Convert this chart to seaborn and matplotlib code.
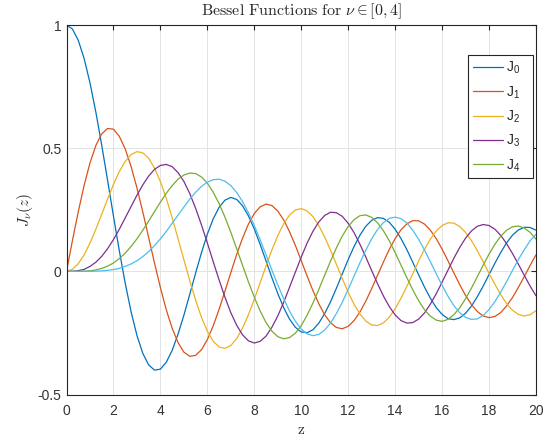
import numpy as np
import pandas as pd
import matplotlib
matplotlib.use("Agg")
import matplotlib.pyplot as plt
import seaborn as sns

# Sample points along z (step 0.25 from 0 to 20)
z = np.linspace(0, 20, 81)

# Bessel functions of the first kind J_0 ... J_5 at the sample points
J0 = [1.000, .984, .938, .864, .765, .646, .512, .369, .224, .083,
      -.048, -.164, -.260, -.333, -.380, -.401, -.397, -.369, -.321, -.255,
      -.178, -.093, -.007, .076, .151, .213, .260, .289, .300, .292,
      .266, .225, .172, .109, .042, -.026, -.090, -.147, -.194, -.227,
      -.246, -.249, -.237, -.210, -.171, -.123, -.068, -.010, .048, .101,
      .147, .183, .207, .218, .215, .199, .171, .133, .088, .037,
      -.014, -.064, -.109, -.147, -.175, -.192, -.196, -.189, -.170, -.141,
      -.103, -.060, -.013, .033, .077, .116, .147, .168, .179, .178, .167]
J1 = [0, .124, .242, .349, .440, .511, .558, .580, .577, .548,
      .497, .426, .339, .241, .137, .033, -.066, -.156, -.231, -.289,
      -.328, -.345, -.341, -.318, -.277, -.221, -.154, -.080, -.005, .069,
      .135, .192, .235, .262, .273, .267, .245, .209, .161, .105,
      .043, -.019, -.079, -.132, -.177, -.209, -.228, -.233, -.223, -.200,
      -.165, -.121, -.070, -.016, .038, .089, .133, .169, .193, .206,
      .205, .192, .167, .133, .090, .043, -.006, -.054, -.098, -.135,
      -.163, -.181, -.188, -.183, -.167, -.140, -.106, -.065, -.021, .024, .067]
J2 = [0, .008, .031, .067, .115, .171, .232, .294, .353, .405,
      .446, .474, .486, .481, .459, .419, .364, .296, .218, .133,
      .047, -.038, -.117, -.187, -.243, -.284, -.307, -.313, -.301, -.273,
      -.230, -.176, -.113, -.046, .022, .087, .145, .193, .228, .249,
      .255, .245, .222, .185, .139, .085, .028, -.030, -.085, -.134,
      -.173, -.202, -.218, -.220, -.209, -.186, -.152, -.109, -.061, -.010,
      .042, .089, .131, .164, .186, .197, .196, .182, .158, .125,
      .084, .039, -.008, -.053, -.095, -.131, -.158, -.175, -.181, -.176, -.160]
J3 = [0, 0, .003, .008, .020, .037, .061, .092, .129, .171,
      .217, .263, .309, .351, .387, .414, .430, .434, .425, .401,
      .365, .316, .256, .188, .115, .039, -.035, -.105, -.168, -.219,
      -.258, -.282, -.291, -.284, -.263, -.227, -.181, -.126, -.065, -.003,
      .058, .115, .163, .201, .227, .240, .238, .223, .195, .157,
      .110, .058, .003, -.050, -.100, -.143, -.177, -.200, -.210, -.208,
      -.194, -.169, -.133, -.091, -.044, .005, .053, .097, .135, .164,
      .183, .190, .186, .171, .146, .112, .072, .029, -.016, -.060, -.099]
J4 = [0, 0, 0, .001, .002, .006, .012, .021, .034, .052,
      .074, .101, .132, .167, .204, .243, .281, .317, .348, .374,
      .391, .399, .397, .383, .358, .321, .275, .220, .158, .092,
      .024, -.043, -.105, -.161, -.208, -.243, -.265, -.274, -.269, -.251,
      -.220, -.178, -.128, -.073, -.015, .042, .096, .144, .182, .210,
      .226, .229, .219, .197, .165, .124, .076, .025, -.026, -.075,
      -.119, -.156, -.182, -.198, -.203, -.195, -.176, -.148, -.111, -.068,
      -.022, .025, .070, .110, .143, .167, .181, .184, .176, .158, .131]
J5 = [0, 0, 0, 0, 0, .001, .002, .004, .007, .012,
      .020, .030, .043, .060, .080, .105, .132, .162, .195, .228,
      .261, .293, .321, .345, .362, .372, .374, .366, .348, .320,
      .283, .238, .186, .128, .067, .005, -.055, -.111, -.161, -.203,
      -.234, -.254, -.261, -.256, -.238, -.210, -.171, -.125, -.073, -.019,
      .035, .086, .132, .170, .198, .215, .220, .214, .196, .167,
      .130, .087, .039, -.010, -.057, -.101, -.139, -.168, -.187, -.195,
      -.193, -.179, -.155, -.123, -.084, -.041, .004, .048, .088, .124, .151]

series = [J0, J1, J2, J3, J4, J5]
labels = [f"J$_{n}$" for n in range(len(series))]
colors = ["#0072BD", "#D95319", "#EDB120", "#7E2F8E", "#77AC30", "#4DBEEE"]

df = pd.concat([pd.DataFrame({"z": z, "J": s, "order": lab})
                for s, lab in zip(series, labels)], ignore_index=True)

sns.set_theme(style="whitegrid")
plt.rcParams.update({
    "font.family": ["Liberation Sans", "DejaVu Sans"],
    "mathtext.fontset": "custom",
    "mathtext.rm": "Liberation Sans",
    "mathtext.it": "Liberation Sans:italic",
    "axes.edgecolor": "#262626",
    "axes.linewidth": 0.8,
    "grid.color": "#e3e3e3",
    "grid.linewidth": 0.7,
    "xtick.color": "#262626",
    "ytick.color": "#262626",
    "xtick.direction": "in",
    "ytick.direction": "in",
    "xtick.major.size": 3.6,
    "ytick.major.size": 3.6,
    "xtick.major.width": 0.8,
    "ytick.major.width": 0.8,
})

fig = plt.figure(figsize=(5.43, 4.41), dpi=100)
ax = fig.add_axes([0.1225, 0.1054, 0.8646, 0.8379])
sns.lineplot(data=df, x="z", y="J", hue="order", palette=colors, linewidth=0.9,
             ax=ax, legend=True)

ax.set_xlim(0, 20)
ax.set_ylim(-0.5, 1)
ax.set_xticks(range(0, 21, 2))
ax.set_yticks([-0.5, 0, 0.5, 1])
ax.set_yticklabels(["-0.5", "0", "0.5", "1"])
ax.tick_params(axis="both", which="both", labelsize=10, top=True, right=True,
               labelcolor="#333333")
ax.tick_params(axis="x", pad=6.5)
ax.tick_params(axis="y", pad=3.5)
for s in ax.spines.values():
    s.set_visible(True)
    s.set_color("#262626")

ax.set_title(r"$\mathrm{Bessel\ Functions\ for\ }\nu \in [0,4]$", fontsize=11.5,
             math_fontfamily="cm", color="#262626", pad=7)
ax.set_xlabel(r"$\mathrm{z}$", fontsize=11, math_fontfamily="cm", color="#262626", labelpad=4)
ax.set_ylabel(r"$J_\nu(z)$", fontsize=11, math_fontfamily="cm", color="#262626", labelpad=2)

# legend lists the first five orders only
handles, labs = ax.get_legend_handles_labels()
leg = ax.legend(handles[:5], [lab + "   " for lab in labs[:5]], loc="upper right",
                bbox_to_anchor=(0.9936, 0.9188), frameon=True, fancybox=False,
                edgecolor="#262626", framealpha=1, fontsize=10, handlelength=2.2,
                handletextpad=0.15, labelspacing=0.57, borderpad=0.35, borderaxespad=0)
leg.get_frame().set_linewidth(0.8)
for t in leg.get_texts():
    t.set_color("#262626")

fig.savefig("out.png", dpi=100)
